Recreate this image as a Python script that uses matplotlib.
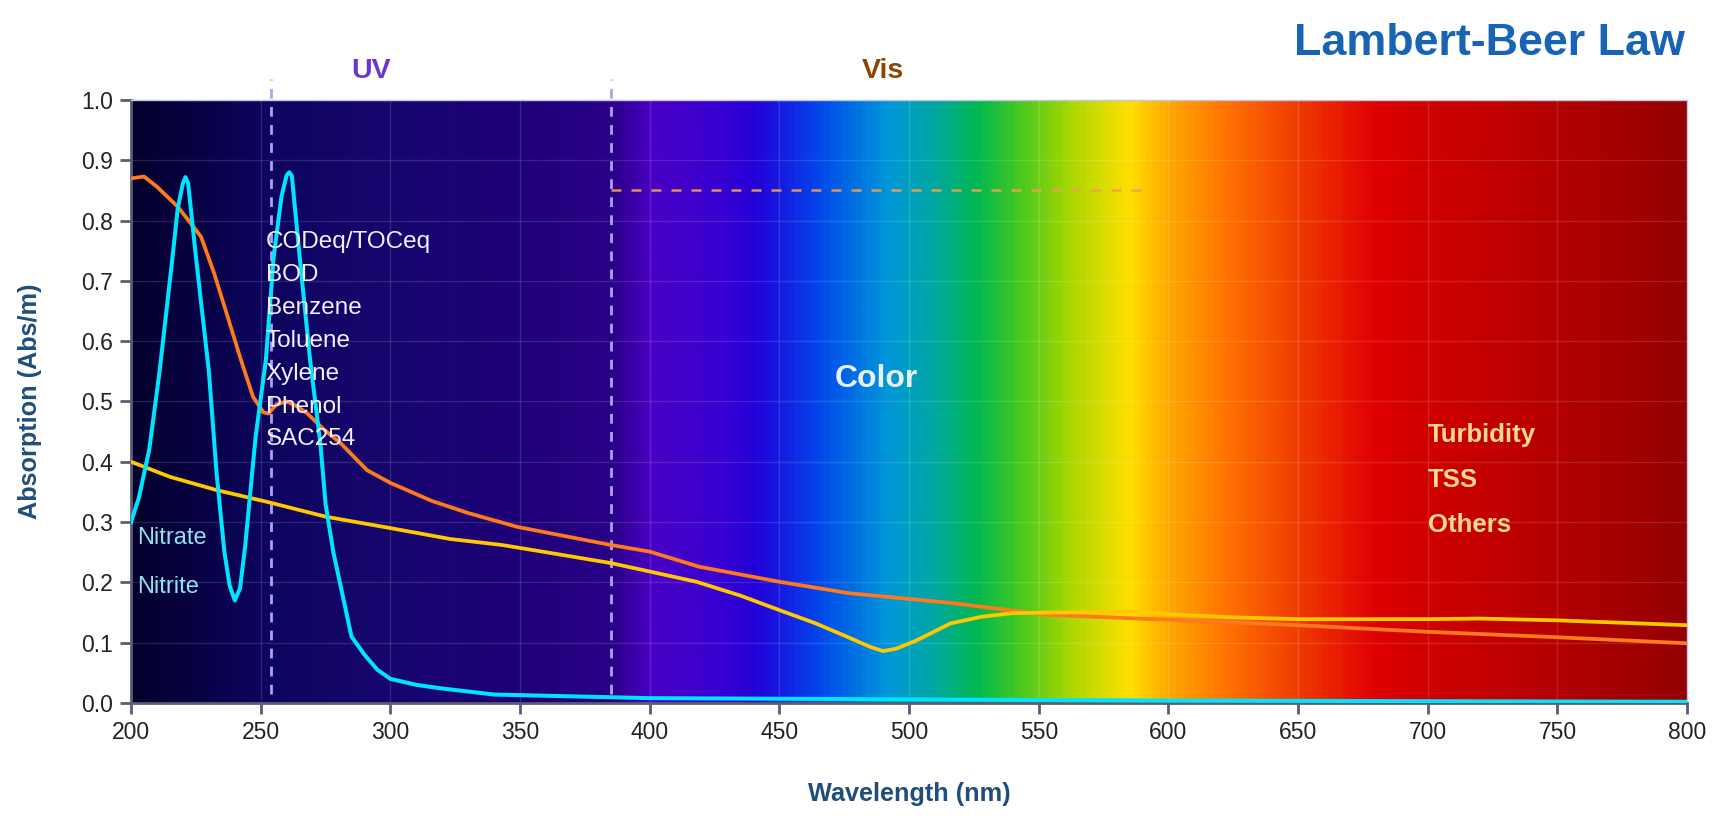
import numpy as np
import matplotlib.pyplot as plt
from matplotlib.colors import LinearSegmentedColormap

plt.rcParams['font.family'] = ['Liberation Sans', 'DejaVu Sans']

# background spectrum stops (nm -> colour)
spec_nm = [200, 250, 300, 350, 385, 400, 425, 440, 452, 468, 492, 510, 526, 543, 563, 585, 600, 622, 650, 680, 700, 750, 800]
spec_col = ['#04002c', '#0d045e', '#17066e', '#1e0078', '#2a0088', '#4a00c4', '#3a00d0', '#2400d8',
            '#1420e4', '#0050ea', '#0098d8', '#00a8a0', '#00b850', '#48c820', '#acd800', '#ffe000',
            '#ffaa00', '#ff7400', '#f03c00', '#e00000', '#d00000', '#b40000', '#940000']

# Nitrate / Nitrite
wl_nitrate = [200, 203, 207, 211, 216, 218, 220, 221, 222, 225, 230, 233, 236, 238, 240, 242, 244,
              248, 252, 255, 258, 260, 261, 262, 265, 269, 273, 275, 278, 281, 285, 290, 295, 300,
              310, 320, 340, 400, 450, 500, 600, 700, 800]
abs_nitrate = [0.30, 0.34, 0.42, 0.55, 0.74, 0.82, 0.862, 0.872, 0.862, 0.74, 0.55, 0.38, 0.25, 0.195,
               0.17, 0.19, 0.26, 0.44, 0.57, 0.74, 0.84, 0.875, 0.88, 0.874, 0.74, 0.57, 0.43, 0.33,
               0.25, 0.19, 0.11, 0.08, 0.055, 0.04, 0.03, 0.024, 0.014, 0.008, 0.007, 0.006, 0.004,
               0.003, 0.002]

# CODeq / TOCeq etc.
wl_cod = [200, 205, 210, 218, 224, 227, 232, 238, 242, 247, 251, 253, 256, 260, 264, 268, 274, 281,
          291, 300, 316, 330, 349, 385, 400, 419, 450, 477, 516, 554, 600, 650, 700, 750, 800]
abs_cod = [0.87, 0.873, 0.856, 0.823, 0.79, 0.773, 0.713, 0.63, 0.574, 0.508, 0.482, 0.48, 0.495,
           0.50, 0.492, 0.48, 0.455, 0.43, 0.386, 0.365, 0.335, 0.315, 0.292, 0.262, 0.251, 0.226,
           0.201, 0.182, 0.166, 0.146, 0.138, 0.129, 0.118, 0.109, 0.099]

# Turbidity / TSS
wl_turb = [200, 215, 233, 252, 275, 300, 323, 343, 360, 385, 400, 418, 435, 450, 464, 476, 485, 490,
           495, 503, 516, 528, 540, 554, 584, 600, 625, 650, 700, 720, 750, 800]
abs_turb = [0.40, 0.375, 0.353, 0.334, 0.309, 0.29, 0.272, 0.262, 0.25, 0.232, 0.218, 0.201, 0.178,
            0.154, 0.132, 0.11, 0.093, 0.086, 0.09, 0.104, 0.132, 0.143, 0.149, 0.150, 0.151, 0.147,
            0.142, 0.139, 0.139, 0.140, 0.137, 0.129]

uv_labels = ['CODeq/TOCeq', 'BOD', 'Benzene', 'Toluene', 'Xylene', 'Phenol', 'SAC254']
n_labels = ['Nitrate', 'Nitrite']
turb_labels = ['Turbidity', 'TSS', 'Others']

fig = plt.figure(figsize=(17.2, 8.16), dpi=100)
ax = fig.add_axes([0.0762, 0.1385, 0.9047, 0.739])

stops = [((w - 200) / 600, c) for w, c in zip(spec_nm, spec_col)]
cmap = LinearSegmentedColormap.from_list('spec', stops)
grad = np.linspace(200, 800, 1200).reshape(1, -1)
ax.imshow(grad, cmap=cmap, vmin=200, vmax=800, extent=[200, 800, 0, 1],
          aspect='auto', zorder=0, interpolation='bilinear')

ax.set_xlim(200, 800)
ax.set_ylim(0, 1)
ax.set_xticks(np.arange(200, 801, 50))
ax.set_yticks(np.arange(0, 1.01, 0.1))
ax.set_yticklabels(['%.1f' % v for v in np.arange(0, 1.01, 0.1)])
ax.grid(color='white', alpha=0.13, lw=1)

# region markers
for x in [254, 385]:
    ax.plot([x, x], [0.015, 1.035], color='#b0a0f4', lw=2, dashes=(3.5, 3), zorder=3, clip_on=False)
ax.plot([385, 590], [0.85, 0.85], color='#f0a050', lw=1.8, dashes=(4, 4), alpha=0.9, zorder=3)

ax.plot(wl_cod, abs_cod, color='#ff7a1e', lw=2.7, zorder=4, solid_joinstyle='round')
ax.plot(wl_turb, abs_turb, color='#ffc800', lw=2.7, zorder=5, solid_joinstyle='round')
ax.plot(wl_nitrate, abs_nitrate, color='#00e4ff', lw=2.9, zorder=6, solid_joinstyle='round')

for i, t in enumerate(uv_labels):
    ax.text(252, 0.764 - 0.0545 * i, t, color='#f2f0ff', fontsize=17.5, va='center', ha='left', zorder=8)
for i, t in enumerate(n_labels):
    ax.text(202.5, 0.274 - 0.082 * i, t, color='#8fe2f2', fontsize=17, va='center', ha='left', zorder=8)
for i, t in enumerate(turb_labels):
    ax.text(700, 0.445 - 0.075 * i, t, color='#ffd98e', fontsize=18.5, fontweight='bold',
            va='center', ha='left', zorder=8)
ax.text(471.5, 0.538, 'Color', color='#e8f0ff', fontsize=23, fontweight='bold', va='center', ha='left', zorder=8)

ax.text(292.5, 1.048, 'UV', color='#6a35d2', fontsize=20.5, fontweight='bold', ha='center', va='center', clip_on=False)
ax.text(490, 1.048, 'Vis', color='#8a4800', fontsize=20.5, fontweight='bold', ha='center', va='center', clip_on=False)

fig.text(0.9797, 0.9326, 'Lambert-Beer Law', color='#1864b4', fontsize=32.3, fontweight='bold',
         ha='right', va='baseline')

ax.set_xlabel('Wavelength (nm)', color='#1f4e7c', fontsize=18.2, fontweight='bold', labelpad=27)
ax.set_ylabel('Absorption (Abs/m)', color='#1f4e7c', fontsize=18.2, fontweight='bold', labelpad=28)

ax.tick_params(length=8, width=2, color='#5c5c74', labelsize=16.5, labelcolor='#222222', pad=5)
for s in ['left', 'bottom']:
    ax.spines[s].set_color('#5c5c74')
    ax.spines[s].set_linewidth(2)
for s in ['top', 'right']:
    ax.spines[s].set_color('#c0c4ea')
    ax.spines[s].set_linewidth(1)

fig.savefig('out.png', dpi=100)
